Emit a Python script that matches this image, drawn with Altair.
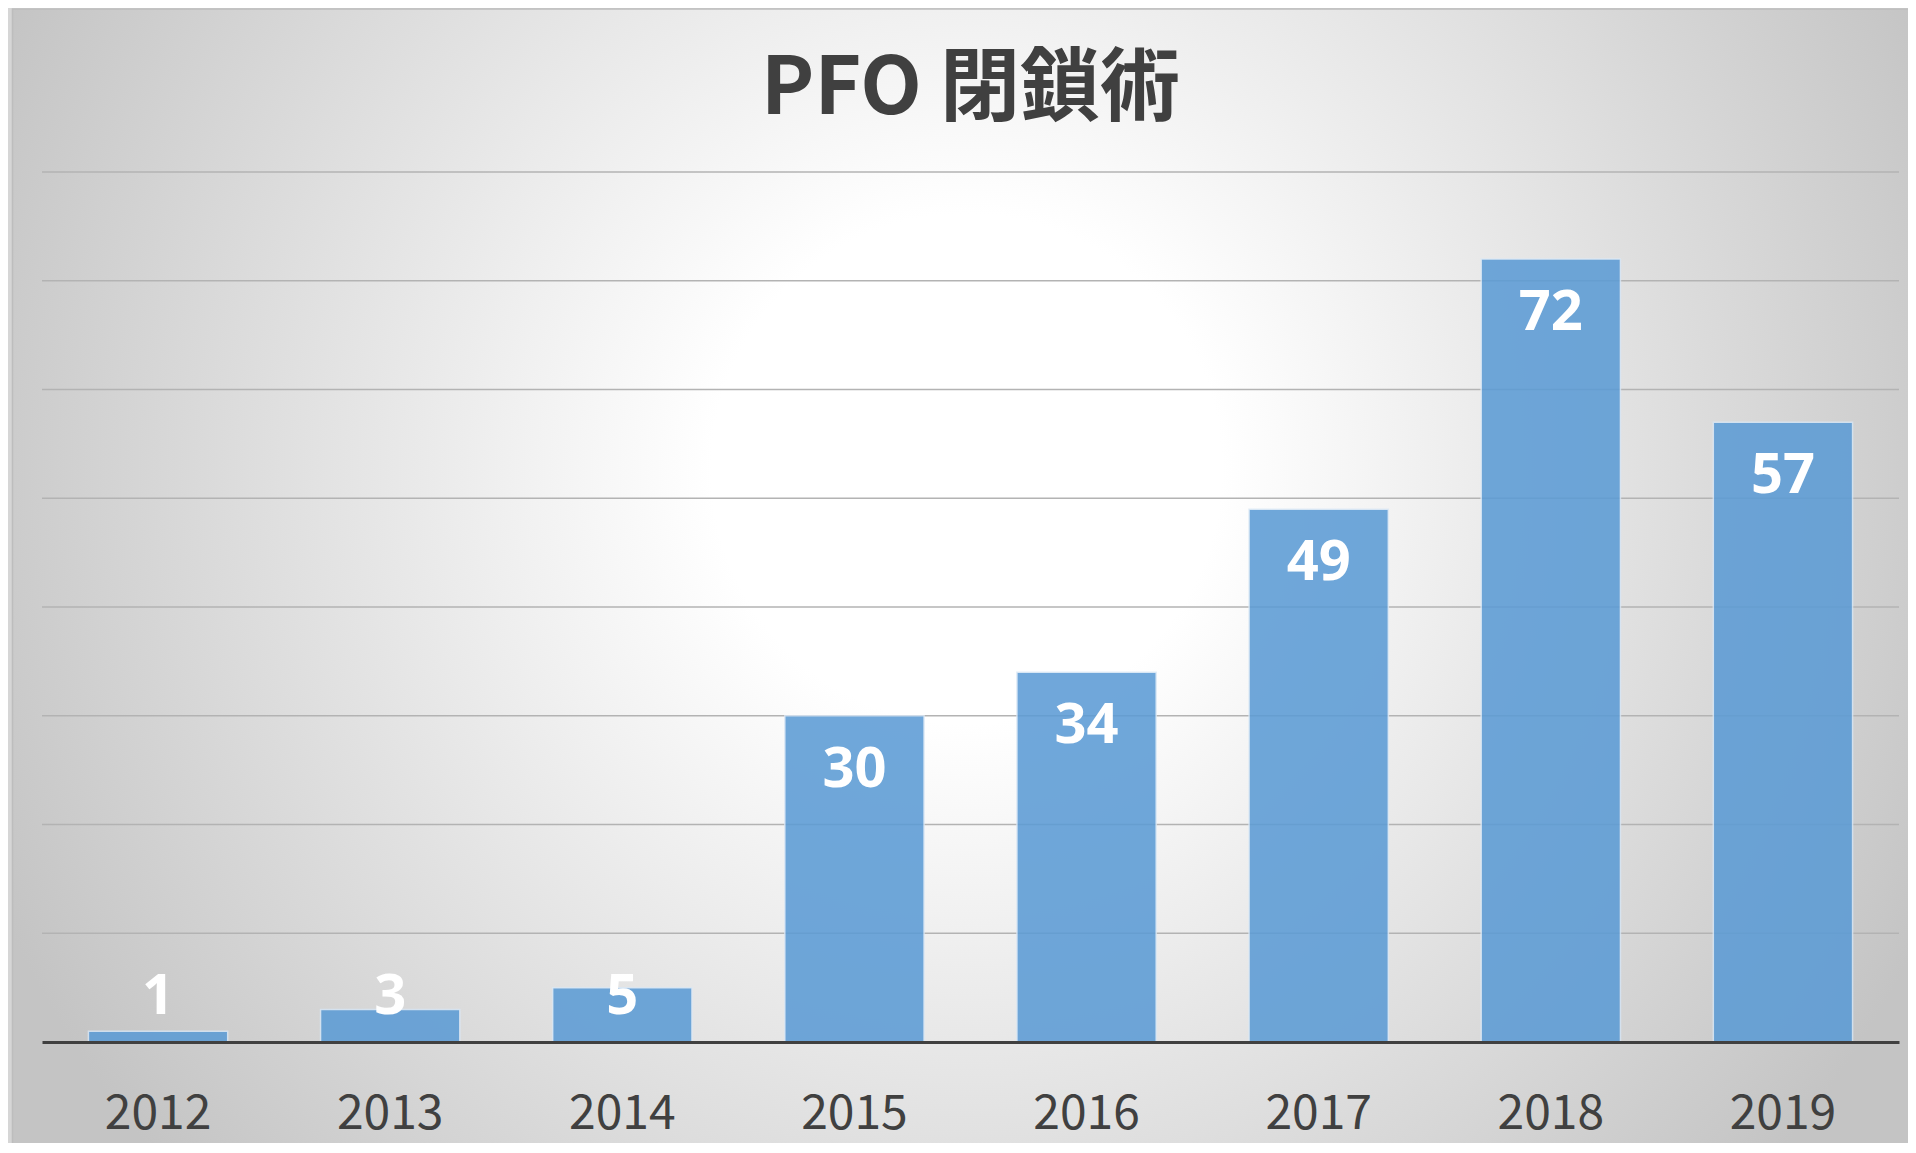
import altair as alt
import pandas as pd

years = ["2012", "2013", "2014", "2015", "2016", "2017", "2018", "2019"]
counts = [1, 3, 5, 30, 34, 49, 72, 57]
title_text = "PFO 閉鎖術"
grid_values = [10, 20, 30, 40, 50, 60, 70, 80]

df = pd.DataFrame({"year": years, "count": counts})
grid_df = pd.DataFrame({"g": grid_values})

W, H = 1857, 870
PAD = {"left": 34, "top": 164, "right": 9, "bottom": 101}

# Vega wraps radial gradients in a pattern (unit square scaled to cover the box)
bg_gradient = {
    "gradient": "radial",
    "x1": 0.503, "y1": 0.443, "r1": 0,
    "x2": 0.503, "y2": 0.443, "r2": 0.56,
    "stops": [
        {"offset": 0, "color": "#ffffff"},
        {"offset": 0.24, "color": "#ffffff"},
        {"offset": 1, "color": "#c4c4c4"},
    ],
}

one = pd.DataFrame({"k": [0]})

outer = alt.Chart(one).mark_rect(fill="#d6d6d6").encode(
    x=alt.value(-PAD["left"]), x2=alt.value(W + PAD["right"]),
    y=alt.value(-PAD["top"]), y2=alt.value(H + PAD["bottom"]),
)

frame = alt.Chart(one).mark_rect(fill=bg_gradient, stroke="#bdbdbd", strokeWidth=1.5).encode(
    x=alt.value(-29.5), x2=alt.value(W + PAD["right"] + 2),
    y=alt.value(-163), y2=alt.value(H + PAD["bottom"] + 2),
)

title = alt.Chart(one).mark_text(
    text=title_text, font="Noto Sans CJK JP", fontWeight="bold", fontSize=80,
    color="#404040", align="center", baseline="alphabetic",
).encode(x=alt.value(W / 2), y=alt.value(-58))

yscale = alt.Scale(domain=[0, 80], nice=False)

grid = alt.Chart(grid_df).mark_rule(color="#b3b3b3", strokeWidth=1.5).encode(
    y=alt.Y("g:Q", scale=yscale, axis=None),
    x=alt.value(0), x2=alt.value(W),
)

xenc = alt.X(
    "year:N", sort=years, title=None,
    scale=alt.Scale(paddingInner=0.4, paddingOuter=0.2),
    axis=alt.Axis(
        labelAngle=0, labelFont="Noto Sans CJK JP", labelFontSize=48,
        labelColor="#404040", labelBaseline="alphabetic", labelPadding=86,
        ticks=False, tickSize=0, domainColor="#404040", domainWidth=3, grid=False,
        zindex=1,
    ),
)

bars = alt.Chart(df).mark_bar(
    color="#5B9BD5", opacity=0.87, stroke="#dce9f6", strokeWidth=1.5, strokeOpacity=0.9
).encode(
    x=xenc,
    y=alt.Y("count:Q", scale=yscale, title=None, axis=None),
)

labels = alt.Chart(df).transform_calculate(
    ly="max(datum.count, 9.1)"
).mark_text(
    font="Open Sans", fontWeight="bold", fontSize=56, color="white",
    baseline="middle", align="center", dy=54,
).encode(
    x=alt.X("year:N", sort=years),
    y=alt.Y("ly:Q", scale=yscale),
    text=alt.Text("count:Q"),
)

chart = alt.layer(outer, frame, title, grid, bars, labels).properties(
    width=W, height=H,
    autosize=alt.AutoSizeParams(type="none"),
    padding=PAD,
).configure_view(stroke=None).configure(background="white")

chart.save("out.html", embed_options={"renderer": "svg", "actions": False})
